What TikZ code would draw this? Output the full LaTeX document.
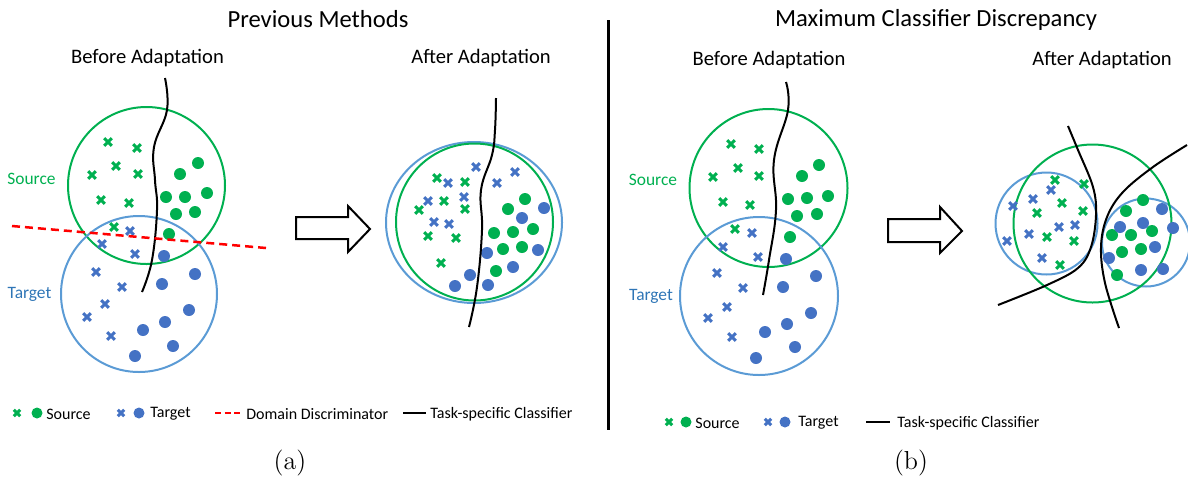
\documentclass[tikz,border=0pt]{standalone}
\usepackage{fontspec}
\newfontfamily\calfont{Carlito}
\definecolor{gc}{HTML}{00B050}
\definecolor{bc}{HTML}{4472C4}
\definecolor{lb}{HTML}{5B9BD5}
\definecolor{tb}{HTML}{2E75B6}
\tikzset{
  crs/.pic={\draw[line width=1.5pt] (-3.8,-3.8)--(3.8,3.8) (-3.8,3.8)--(3.8,-3.8);},
  gring/.style={draw=gc,line width=1pt},
  bring/.style={draw=lb,line width=1pt},
  clf/.style={draw=black,line width=1pt},
  blockarrow/.style={draw=black,fill=white,line width=1pt,line join=miter},
  title/.style={font=\calfont\fontsize{12.3}{14}\selectfont,inner sep=0pt},
  sub/.style={font=\calfont\fontsize{10.3}{12}\selectfont,inner sep=0pt},
  lab/.style={font=\calfont\fontsize{8.7}{10}\selectfont,inner sep=0pt},
  leg/.style={font=\calfont\fontsize{8}{10}\selectfont,inner sep=0pt,anchor=west},
  captext/.style={font=\fontsize{13}{15}\selectfont,inner sep=0pt}
}
\begin{document}
\begin{tikzpicture}[x=0.5pt,y=-0.5pt]
\useasboundingbox (0,0) rectangle (1188,478);
% ---------- titles
\node[title] (t1) at (318,19) {Previous Methods};
\node[title] (t2) at (936,20) {Maximum Classifier Discrepancy};
\node[sub] (s1) at (147.5,58) {Before Adaptation};
\node[sub] (s2) at (481,58) {After Adaptation};
\node[sub] (s3) at (769,60) {Before Adaptation};
\node[sub] (s4) at (1102,60) {After Adaptation};
% divider
\draw[line width=1.5pt] (608,20) -- (608,430);
% ---------- panel a, before
\draw[gring] (146.5,185.5) circle (78.5);
\draw[bring] (139,294) circle (78);
\node[lab,text=gc] (la1) at (31.5,179) {Source};
\node[lab,text=tb] (la2) at (29.5,294) {Target};
\foreach \p in {(108,142),(137,148),(116,166),(138,174),(92,175),(101,200),(129,203),(114,227)} \pic[gc] at \p {crs};
\foreach \p in {(198,163),(180,174),(166,197),(185,197),(207,193),(176,214),(195,212),(169,234)} \fill[gc] \p circle (6);
\foreach \p in {(130,231),(102,244),(135,254),(96,272),(122,287),(105,304),(87,317),(111,336)} \pic[bc] at \p {crs};
\foreach \p in {(164,256),(195,274),(162,284),(189,310),(165,322),(143,330),(173,346),(135,356)} \fill[bc] \p circle (6);
\draw[clf] plot[smooth,tension=0.7] coordinates {(165,78) (167,110) (154,147) (155,180) (157,210) (152,260) (142,292)};
\draw[red,line width=1.25pt,dash pattern=on 4pt off 2.5pt] (12,226) -- (266,248);
% arrow a
\draw[blockarrow] (296,217) -- (348,217) -- (348,206) -- (370,229) -- (348,252) -- (348,239) -- (296,239) -- cycle;
% ---------- panel a, after
\draw[bring] (474,222.5) ellipse (88 and 80.5);
\draw[gring] (474.5,222) circle (78.5);
\foreach \p in {(476,167),(515,172),(448,183),(497,183),(428,201),(464,197),(434,222),(449,224)} \pic[bc] at \p {crs};
\foreach \p in {(437,178),(465,182),(444,201),(419,210),(465,209),(428,236),(456,238),(441,263)} \pic[gc] at \p {crs};
\foreach \p in {(525,199),(508,209),(494,233),(513,232),(533,229),(503,249),(522,247),(496,271)} \fill[gc] \p circle (6);
\foreach \p in {(544,208),(522,218),(487,253),(538,250),(513,267),(470,275),(455,286),(488,285)} \fill[bc] \p circle (6);
\draw[clf] plot[smooth,tension=0.7] coordinates {(496,98) (495,130) (492,155) (481,190) (482,230) (477,287) (469,327)};
% ---------- panel b, before
\draw[gring] (768.5,188) circle (79);
\draw[bring] (759,296) circle (79);
\node[lab,text=gc] (lb1) at (653,180) {Source};
\node[lab,text=tb] (lb2) at (651,296) {Target};
\foreach \p in {(731,144),(759,149),(738,168),(759,176),(713,177),(723,202),(750,205),(735,229)} \pic[gc] at \p {crs};
\foreach \p in {(819,165),(802,176),(788,199),(807,198),(828,196),(797,216),(817,214),(790,237)} \fill[gc] \p circle (6);
\foreach \p in {(752,233),(723,247),(758,257),(717,273),(743,288),(727,307),(708,318),(732,337)} \pic[bc] at \p {crs};
\foreach \p in {(786,259),(816,276),(783,287),(811,313),(787,324),(765,332),(795,347),(756,358)} \fill[bc] \p circle (6);
\draw[clf] plot[smooth,tension=0.7] coordinates {(786,82) (788,110) (774,160) (776,210) (769,260) (763,295)};
% arrow b
\draw[blockarrow] (888,219) -- (940,219) -- (940,207) -- (962,231) -- (940,253) -- (940,242) -- (888,242) -- cycle;
% ---------- panel b, after
\draw[bring] (1046.5,223.5) circle (51);
\draw[bring] (1146,242.5) circle (44);
\draw[gring] (1092.5,223.5) circle (79);
\foreach \p in {(1055,180),(1084,184),(1062,203),(1037,213),(1083,211),(1047,237),(1074,241),(1060,265)} \pic[gc] at \p {crs};
\foreach \p in {(1051,190),(1013,206),(1033,199),(1059,227),(1075,225),(1029,234),(1007,241),(1042,258)} \pic[bc] at \p {crs};
\foreach \p in {(1143,200),(1126,211),(1152,231),(1131,235),(1112,235),(1122,252),(1141,249),(1117,275)} \fill[gc] \p circle (6);
\foreach \p in {(1162,209),(1120,227),(1143,223),(1173,228),(1155,247),(1109,258),(1141,270),(1163,269)} \fill[bc] \p circle (6);
\draw[clf] plot[smooth,tension=0.6] coordinates {(1068,126) (1078,150) (1093,187) (1096,215) (1091,247) (1078,268) (1047,285) (998,305)};
\draw[clf] plot[smooth,tension=0.6] coordinates {(1187,145) (1153,167) (1123,192) (1107,217) (1101,247) (1105,283) (1119,328)};
% ---------- legends
\pic[gc,scale=0.85] at (17,413) {crs};
\fill[gc] (37,413) circle (5.5);
\node[leg] (ga1) at (46,414) {Source};
\pic[bc,scale=0.85] at (121,413) {crs};
\fill[bc] (139,413) circle (5.5);
\node[leg] (ga2) at (150,414) {Target};
\coordinate (dd1) at (215,413);
\coordinate (dd2) at (240,413);
\draw[red,line width=1.1pt,dash pattern=on 3pt off 1.8pt] (dd1) -- (dd2);
\node[leg] (ga3) at (246,414) {Domain Discriminator};
\coordinate (cl1) at (403,413);
\coordinate (cl2) at (426,413);
\draw[clf] (cl1) -- (cl2);
\node[leg] (ga4) at (430,414) {Task-specific Classifier};
\pic[gc,scale=0.85] at (669,422) {crs};
\fill[gc] (686,422) circle (5.5);
\node[leg] (gb1) at (695,423) {Source};
\pic[bc,scale=0.85] at (768,422) {crs};
\fill[bc] (785,422) circle (5.5);
\node[leg] (gb2) at (798,423) {Target};
\coordinate (cl3) at (866,422);
\coordinate (cl4) at (890,422);
\draw[clf] (cl3) -- (cl4);
\node[leg] (gb3) at (897,423) {Task-specific Classifier};
% ---------- captions
\node[captext] (ca) at (290,463) {(a)};
\node[captext] (cb) at (911,463) {(b)};
\end{tikzpicture}
\end{document}
